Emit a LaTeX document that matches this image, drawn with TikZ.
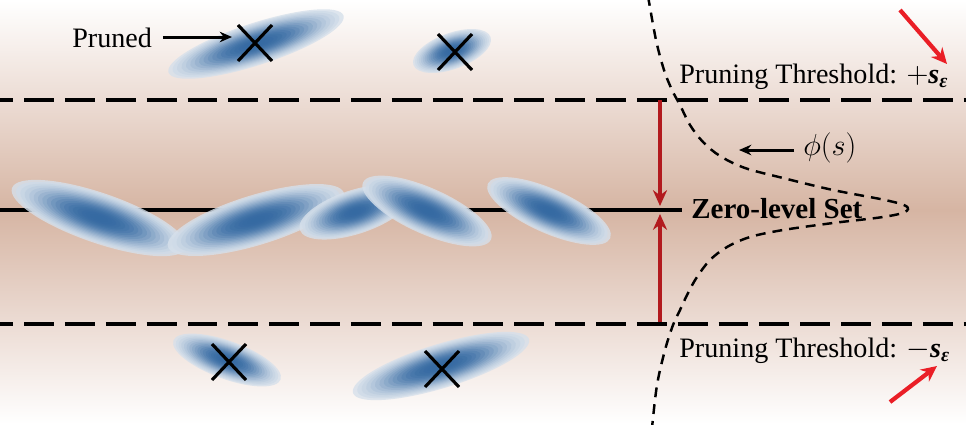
\documentclass[tikz,border=0pt]{standalone}
\usepackage{fontspec}
\setmainfont{Liberation Serif}
\usetikzlibrary{arrows.meta,calc}
\definecolor{bgmid}{RGB}{214,181,163}
\definecolor{bgline}{RGB}{236,220,212}
\definecolor{gblue}{RGB}{26,86,150}
\definecolor{gedge}{RGB}{236,240,245}
\definecolor{darkred}{RGB}{178,26,30}
\definecolor{brightred}{RGB}{234,30,38}
\newcommand\gsplat[5]{%
  \begin{scope}[shift={(#1,#2)},rotate=#5]
    \foreach \k in {0,...,19}{%
      \pgfmathsetmacro\s{1-\k/20}%
      \pgfmathsetmacro\p{3+84*exp(-2.4*\s*\s*\s)}%
      \fill[gblue!\p!gedge, fill opacity=0.8] (0,0) ellipse ({#3*\s} and {#4*\s});
    }
  \end{scope}}
\newcommand\xmark[2]{%
  \draw[xstroke] ($(#1,#2)+(-17,-18)$) -- ($(#1,#2)+(17,18)$);
  \draw[xstroke] ($(#1,#2)+(-17,18)$) -- ($(#1,#2)+(17,-18)$);}
\begin{document}
\begin{tikzpicture}[x=0.02cm,y=-0.02cm,
  txt/.style={font=\fontsize{16}{19}\selectfont, inner sep=0pt},
  threshold/.style={line width=2.1pt, dash pattern=on 17pt off 6.25pt},
  xstroke/.style={line width=1.8pt, line cap=butt},
  redarrow/.style={draw=darkred, line width=2.2pt, -{Stealth[length=9pt,width=8pt]}},
  callout/.style={draw=brightred, line width=2.4pt, -{Stealth[length=9pt,width=8.5pt]}},
  blackarrow/.style={line width=1.7pt, -{Stealth[length=7pt,width=6pt]}},
  phicurve/.style={line width=1.4pt, dash pattern=on 5.6pt off 4pt}]
\useasboundingbox (0,0) rectangle (966,424);
% background
\shade[top color=white, bottom color=bgline] (0,0) rectangle (966,100);
\shade[top color=bgline, bottom color=bgmid] (0,100) rectangle (966,210);
\shade[top color=bgmid, bottom color=bgline] (0,210) rectangle (966,324);
\shade[top color=bgline, bottom color=white] (0,324) rectangle (966,424);
% threshold lines
\coordinate (tl) at (-16.7,100); \coordinate (tr) at (966,100);
\coordinate (bl) at (-16.7,324); \coordinate (br) at (966,324);
\draw[threshold] (tl) -- (tr);
\draw[threshold] (bl) -- (br);
% zero-level line
\coordinate (zl) at (0,210); \coordinate (zr) at (682,210);
\draw[line width=2.2pt] (zl) -- (zr);
% phi curve
\draw[phicurve] plot[smooth, tension=0.55] coordinates {(648,-4) (656,40) (664,70) (672,90) (680,105) (690,125) (703,142) (720,156) (745,168) (783,178) (833,190) (885,200) (906,206) (905,212) (883,217) (833,223) (783,230) (750,237) (727,247) (710,260) (697,277) (688,293) (680,310) (673,325) (665,350) (657,385) (652,428)};
% red vertical arrows
\coordinate (ra1) at (660,100); \coordinate (ra1t) at (660,206);
\coordinate (ra2) at (660,322); \coordinate (ra2t) at (660,214);
\draw[redarrow] (ra1) -- (ra1t);
\draw[redarrow] (ra2) -- (ra2t);
% splats in band
\gsplat{99}{218}{92}{25}{-19}
\gsplat{256}{220}{92}{25}{17}
\gsplat{355}{212}{58}{22}{18}
\gsplat{427}{211}{70}{23}{-24}
\gsplat{549}{211}{67}{22}{-24}
% pruned splats
\gsplat{256}{44}{92}{21}{18}
\gsplat{452}{51}{41}{18}{20}
\gsplat{227}{360}{57}{19}{-20}
\gsplat{441}{366}{92}{22}{17}
\xmark{255}{43}
\xmark{455}{52}
\xmark{229}{362}
\xmark{442}{369}
% texts
\node[txt, anchor=base west] (pruned) at (72,47) {Pruned};
\coordinate (prunedtip) at (232,37);
\draw[blackarrow] ([xshift=6pt]pruned.east |- prunedtip) -- (prunedtip);
\node[txt, anchor=base west] (tplus) at (679,83) {Pruning Threshold: $+$\textbf{\textit{s}}\textsubscript{\textbf{\textit{ε}}}};
\node[txt, anchor=base west] (tminus) at (679,357) {Pruning Threshold: $-$\textbf{\textit{s}}\textsubscript{\textbf{\textit{ε}}}};
\node[txt, anchor=base west, font=\fontsize{16.5}{19}\bfseries] (zero) at (691,218) {Zero-level Set};
\node[txt, anchor=west] (phi) at (803,148) {$\phi(s)$};
\coordinate (phitip) at (739,150);
\draw[blackarrow] ([xshift=-5pt]phi.west |- phitip) -- (phitip);
% red callout arrows
\coordinate (c1s) at (900,10); \coordinate (c1t) at (947,64);
\coordinate (c2s) at (890,402); \coordinate (c2t) at (937,366);
\draw[callout] (c1s) -- (c1t);
\draw[callout] (c2s) -- (c2t);
\end{tikzpicture}
\end{document}
